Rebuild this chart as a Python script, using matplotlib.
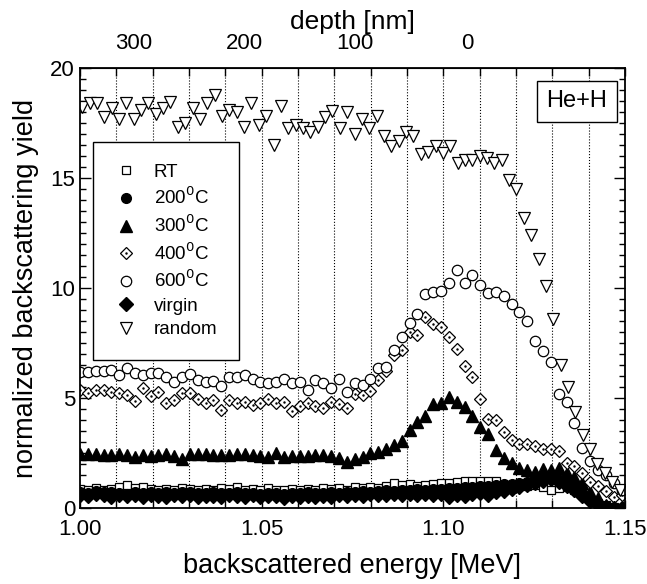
import matplotlib
matplotlib.use('Agg')
import matplotlib.pyplot as plt
from matplotlib.ticker import MultipleLocator
import numpy as np

plt.rcParams['font.family'] = ['Liberation Sans', 'DejaVu Sans']

# channel energies (MeV)
e_start, e_step = 1.0, 0.00216
r_start, r_step = 1.0006, 0.002026

rt = [0.85, 0.8, 0.9, 0.82, 0.88, 0.95, 1.05, 0.92, 0.98, 0.85,
      0.8, 0.88, 0.82, 0.92, 0.85, 0.8, 0.88, 0.83, 0.9, 0.85,
      0.95, 0.8, 0.85, 0.82, 0.9, 0.8, 0.83, 0.85, 0.82, 0.88,
      0.8, 0.9, 0.86, 0.9, 0.84, 0.97, 0.92, 0.97, 0.9, 1.0,
      1.13, 1.05, 1.1, 1.0, 1.05, 1.1, 1.15, 1.12, 1.2, 1.23,
      1.24, 1.25, 1.23, 1.22, 1.03, 1.06, 1.1, 1.0, 1.05, 0.95,
      0.8, 0.9, 0.95, 0.8, 0.6, 0.4, 0.25, 0.12, 0.05, 0.02]
t200 = [0.75, 0.7, 0.78, 0.72, 0.75, 0.68, 0.62, 0.72, 0.7, 0.75,
        0.68, 0.72, 0.7, 0.75, 0.72, 0.68, 0.7, 0.73, 0.68, 0.7,
        0.72, 0.68, 0.7, 0.65, 0.68, 0.7, 0.66, 0.7, 0.68, 0.72,
        0.7, 0.68, 0.72, 0.7, 0.74, 0.72, 0.76, 0.74, 0.78, 0.8,
        0.78, 0.82, 0.8, 0.85, 0.82, 0.88, 0.86, 0.9, 0.92, 0.95,
        0.98, 1.0, 1.02, 1.05, 1.08, 1.1, 1.15, 1.2, 1.25, 1.3,
        1.35, 1.3, 1.2, 1.05, 0.75, 0.4, 0.2, 0.08, 0.02, 0.0]
t300 = [2.48, 2.45, 2.45, 2.41, 2.41, 2.48, 2.41, 2.33, 2.41, 2.36,
        2.41, 2.45, 2.36, 2.21, 2.48, 2.45, 2.45, 2.41, 2.41, 2.41,
        2.45, 2.45, 2.41, 2.36, 2.3, 2.52, 2.3, 2.36, 2.36, 2.36,
        2.41, 2.41, 2.36, 2.26, 2.1, 2.21, 2.33, 2.52, 2.56, 2.67,
        2.86, 3.06, 3.55, 3.92, 4.18, 4.73, 4.79, 5.03, 4.83, 4.6,
        4.18, 3.67, 3.36, 2.64, 2.26, 2.03, 1.82, 1.73, 1.65, 1.76,
        1.73, 1.8, 1.6, 1.42, 1.12, 0.74, 0.44, 0.14, 0.05, 0.0]
t400 = [5.36, 5.24, 5.36, 5.39, 5.29, 5.24, 5.14, 4.88, 5.44, 5.09,
        5.29, 4.79, 4.91, 5.21, 5.24, 4.98, 4.79, 4.91, 4.48, 4.91,
        4.79, 4.83, 4.68, 4.79, 4.98, 4.76, 4.83, 4.42, 4.64, 4.76,
        4.64, 4.53, 4.83, 4.72, 4.56, 5.18, 5.14, 5.33, 5.82, 6.24,
        6.95, 7.18, 8.02, 7.86, 8.67, 8.39, 8.24, 7.79, 7.21, 6.45,
        5.94, 4.94, 4.05, 4.02, 3.45, 3.1, 2.9, 2.9, 2.8, 2.7,
        2.7, 2.6, 2.06, 1.9, 1.6, 1.17, 1.0, 0.78, 0.5, 0.6]
t600 = [6.2, 6.2, 6.24, 6.24, 6.27, 6.05, 6.35, 6.15, 6.05, 6.12,
        6.12, 5.97, 5.74, 5.94, 6.09, 5.82, 5.74, 5.79, 5.55, 5.94,
        5.97, 6.05, 5.89, 5.74, 5.7, 5.74, 5.89, 5.7, 5.74, 5.39,
        5.82, 5.7, 5.48, 5.85, 5.29, 5.67, 5.59, 5.89, 6.38, 6.42,
        7.18, 7.79, 8.42, 8.8, 9.73, 9.83, 9.88, 10.21, 10.8, 10.21,
        10.59, 10.14, 9.76, 9.83, 9.64, 9.26, 8.92, 8.51, 7.59, 7.14,
        6.65, 5.18, 4.83, 3.85, 2.75, 2.14, 1.71, 1.52, 1.14, 0.83]
virgin = [0.6, 0.55, 0.62, 0.58, 0.5, 0.6, 0.55, 0.58, 0.52, 0.6,
          0.56, 0.5, 0.58, 0.55, 0.6, 0.52, 0.57, 0.54, 0.5, 0.58,
          0.55, 0.52, 0.58, 0.5, 0.55, 0.53, 0.48, 0.55, 0.52, 0.57,
          0.5, 0.55, 0.52, 0.58, 0.55, 0.6, 0.57, 0.62, 0.6, 0.58,
          0.62, 0.6, 0.65, 0.6, 0.63, 0.58, 0.62, 0.5, 0.6, 0.55,
          0.62, 0.68, 0.6, 0.72, 0.78, 0.85, 0.95, 1.05, 1.15, 1.25,
          1.3, 1.2, 1.0, 0.8, 0.55, 0.3, 0.15, 0.05, 0.0, 0.0]
random_ = [18.24, 18.4, 18.4, 17.76, 18.17, 17.7, 18.4, 17.7, 18.1, 18.4,
           17.9, 18.17, 18.47, 17.3, 17.5, 18.17, 17.7, 18.4, 18.77, 17.8,
           18.1, 18.0, 17.3, 18.4, 17.4, 17.8, 16.5, 18.27, 17.26, 17.4,
           17.26, 17.1, 17.3, 17.76, 18.06, 17.26, 18.0, 17.0, 17.67, 17.26,
           17.8, 16.9, 16.45, 16.7, 17.1, 16.9, 16.1, 16.2, 16.45, 16.15,
           16.45, 15.7, 15.8, 15.8, 16.0, 15.9, 15.7, 15.8, 14.9, 14.5,
           13.2, 12.4, 11.3, 10.1, 8.6, 6.5, 5.5, 4.36, 3.3, 2.7,
           2.0, 1.6, 1.2, 0.8]

depth_ticks = [1.0149, 1.0454, 1.0757, 1.1065]
depth_labels = ['300', '200', '100', '0']


def energy(vals, start=e_start, step=e_step):
    return start + step * np.arange(len(vals))


fig = plt.figure(figsize=(6.47, 5.84), dpi=100)
ax = fig.add_axes([0.1236, 0.130, 0.8424, 0.7534])

open_kw = dict(markerfacecolor='white', markeredgecolor='black',
               markeredgewidth=0.9, linestyle='none')
h_rt, = ax.plot(energy(rt), rt, 's', ms=6.2, **open_kw)
h_200, = ax.plot(energy(t200), t200, 'o', ms=7, color='black', linestyle='none')
h_300, = ax.plot(energy(t300), t300, '^', ms=8, color='black', linestyle='none')
h_400, = ax.plot(energy(t400), t400, 'D', ms=6.3, **open_kw)
h_400d, = ax.plot(energy(t400), t400, '.', ms=1.5, color='black', linestyle='none')
h_600, = ax.plot(energy(t600), t600, 'o', ms=7.5, **open_kw)
h_vir, = ax.plot(energy(virgin), virgin, 'D', ms=7, color='black', linestyle='none')
h_ran, = ax.plot(energy(random_, r_start, r_step), random_, 'v', ms=8, **open_kw)

ax.set_xlim(1.0, 1.15)
ax.set_ylim(0, 20)
ax.xaxis.set_major_locator(MultipleLocator(0.05))
ax.xaxis.set_minor_locator(MultipleLocator(0.01))
ax.yaxis.set_major_locator(MultipleLocator(5))
ax.yaxis.set_minor_locator(MultipleLocator(0.5))
ax.xaxis.set_major_formatter(plt.FormatStrFormatter('%.2f'))
ax.tick_params(which='both', direction='in', top=True, right=True,
               labelsize=16, width=1)
ax.tick_params(axis='x', which='both', length=6)
ax.tick_params(axis='y', which='major', length=8)
ax.tick_params(axis='y', which='minor', length=4)
ax.tick_params(axis='x', pad=8)
for s in ax.spines.values():
    s.set_linewidth(1.3)

for xg in np.arange(1.01, 1.145, 0.01):
    ax.axvline(xg, color='black', linestyle=':', linewidth=0.8, zorder=0)

sec = ax.secondary_xaxis('top')
sec.set_xticks(depth_ticks)
sec.set_xticklabels(depth_labels)
sec.tick_params(length=0, labelsize=16, pad=10)
sec.set_xlabel('depth [nm]', fontsize=19, labelpad=3)

ax.set_xlabel('backscattered energy [MeV]', fontsize=19.5, labelpad=9)
ax.set_ylabel('normalized backscattering yield', fontsize=19.5, labelpad=8)

leg = ax.legend([h_rt, h_200, h_300, (h_400, h_400d), h_600, h_vir, h_ran],
                ['RT', '200$^0$C', '300$^0$C', '400$^0$C', '600$^0$C',
                 'virgin', 'random'],
                loc='upper left', bbox_to_anchor=(0.024, 0.832),
                borderaxespad=0, fontsize=13.5, frameon=True, fancybox=False,
                edgecolor='black', framealpha=1, handlelength=1.2,
                handletextpad=0.9, labelspacing=0.33, borderpad=1.15)
leg.get_frame().set_linewidth(1.0)

ax.text(0.912, 0.925, 'He+H', transform=ax.transAxes, fontsize=17,
        ha='center', va='center',
        bbox=dict(boxstyle='square,pad=0.4', facecolor='white',
                  edgecolor='black', linewidth=1.0))

fig.savefig('out.png', dpi=100)
